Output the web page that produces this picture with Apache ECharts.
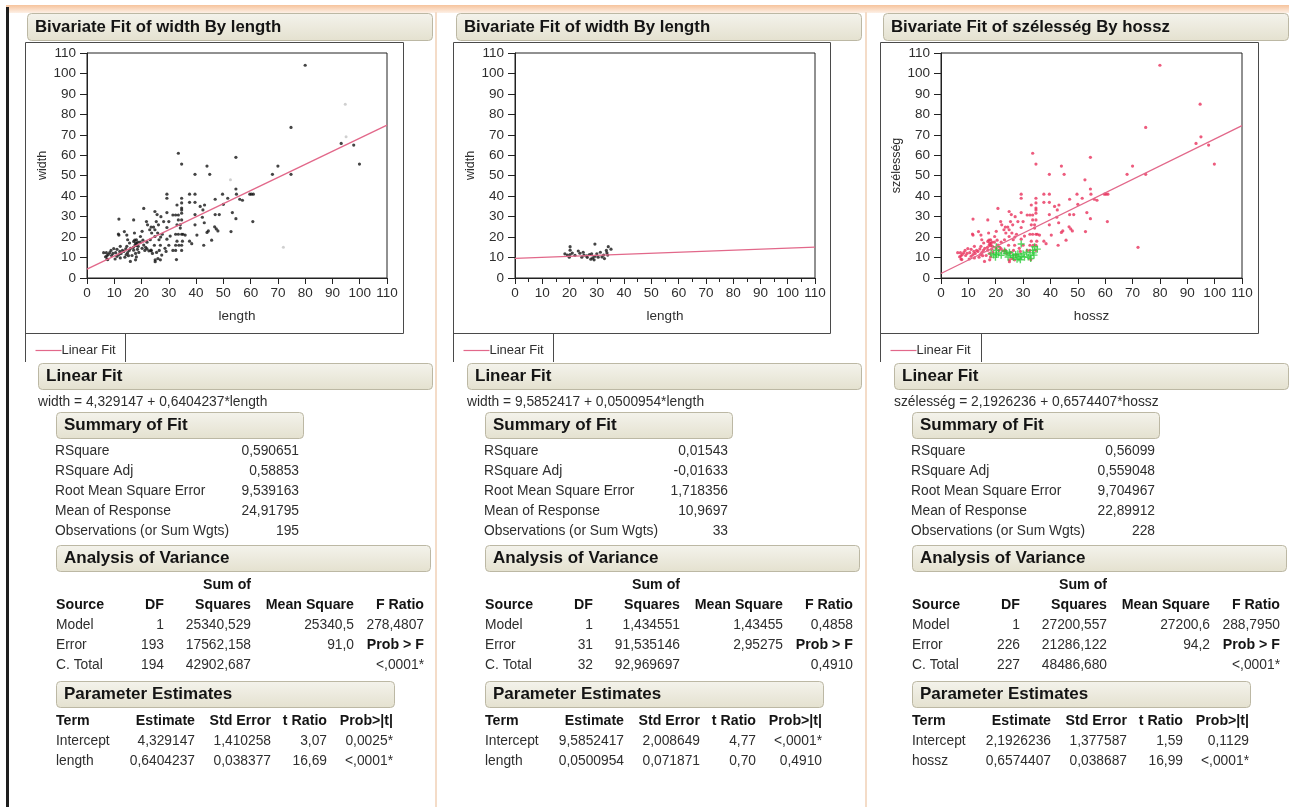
<!DOCTYPE html>
<html>
<head>
<meta charset="utf-8">
<title>Bivariate Fit</title>
<script src="https://cdn.jsdelivr.net/npm/echarts@6/dist/echarts.min.js"></script>
<style>
  body { margin: 0; background: #fff; }
  #main { width: 1289px; height: 807px; }
</style>
</head>
<body>
<div id="main"></div>
<script type="text/javascript">
// ---- data ----
var tickValues = [0, 10, 20, 30, 40, 50, 60, 70, 80, 90, 100, 110];

// length / width points (panel 1, and red in panel 3)
var pointsA = [
  [80,104],[74.8,73.6],[93.2,65.8],[97.8,65],[99.9,55.7],[74.8,50.7],[68,50.7],[70,54.7],
  [33.5,61],[34.7,55.7],[44,54.7],[45,50.7],[39.6,50.7],[54.6,59],[54.6,43.5],[54.8,41],[59.7,41],[61,41],[60.3,41],
  [56,38.5],[57,38],[60.8,27.6],[53.3,32],[54.6,29],[52.8,22.7],[49.7,41],[50,36],[51.6,39],[47,38.5],[47,31],
  [48.5,31],[47.4,24],[48,23],[45.7,18.5],[44,22.3],[43,27],[42.3,29.7],[42.5,33.3],[41.5,35],[43.1,35.7],
  [37.6,41],[39.6,41],[37.6,37],[39.6,37],[39.6,31],[39.6,26],[40.3,21],[42.8,16],[37.6,18],[38.4,16.8],[44.5,23],[46.8,25],
  [34.7,39],[34.7,36.7],[34.7,34.2],[34.7,33.3],[34.7,31.7],[33,35.7],[33.5,30.8],[32.5,30.8],[31.5,30.8],[34.7,28.4],
  [33.5,28.4],[33,26],[34.2,26],[32.5,21.4],[33.5,21.4],[34.7,21.4],[35.2,21.4],[34.2,24.4],[32.5,16],[33.7,16],
  [34.7,16],[34.7,13.5],[32.8,9],[32.5,13.5],[31.5,13.5],[35,18],[36,21],[33,18],
  [29.3,41],[29.3,39],[29.3,32],[30,27.6],[29.3,24.7],[27.6,21.4],[29.3,19],[30,16],[28.1,27.6],[27.1,30],[30.5,20.5],[28.6,14.5],[29,13],
  [25.4,27.6],[26.2,26],[24.4,24.9],[24.9,23.6],[25.9,22],[24.9,20.3],[26.4,18.7],[26.9,16],[27.4,11.2],[26.9,8.9],
  [24.9,32.5],[25.7,31],[23.5,24.9],[23,23.6],[23.7,22],[23.2,18.7],[24.7,16],[23.5,13.6],[24,12],[25,8.9],[25,8],
  [26,9.5],[25.5,12.5],[26.5,13.5],[27,20],
  [20.8,34],[21.8,27.6],[22.2,26],[20.2,22.8],[19.6,20.3],[20.8,16.1],[21.5,15],[22,14.2],[22.7,13.3],[23.5,13.3],
  [20.2,14.5],[21.2,13.5],[19.5,17.5],[22,17.5],[20.5,18.5],
  [17.1,28.4],[17.4,22],[18.1,18.7],[17.1,17.9],[17.8,17.1],[18.3,16.8],[17.6,16.1],[18.1,15.8],[18.6,17.6],[17,15],
  [18.8,15.5],[17.5,18.5],[17.1,13.6],[17.8,12],[18.1,10.3],[17.8,8.9],[15.9,8.1],[16.5,11],[19,12.5],[18.5,14],
  [14.9,18.7],[15.6,17.1],[14.6,15.5],[14.2,14.2],[14.9,12.4],[14.4,11.5],[15.2,10.9],[13.9,10.2],[13.7,22.7],[14.6,21],
  [15.5,13.5],[13.5,13],[16,14.5],
  [11.7,21],[11.5,21.5],[11.7,28.8],[12.2,15.5],[11,14],[10.5,12.4],[11.7,11.5],[12.2,9.8],[11,10.6],[9.8,14.4],
  [10.3,9.3],[12.5,12],[13,13.5],[12,13],
  [8.3,12.4],[7.8,11.5],[7.3,10.8],[6.1,12.4],[7.1,12.4],[6.8,10.4],[7.3,9.3],[7.6,9],[9,11],[8.8,13.5],[9.5,12]
];
// faint (light) points in panel 1
var pointsAFaint = [[94.7,85],[95,69],[72,15],[52.6,48]];

// second sample (panel 2, and green in panel 3)
var pointsB = [
  [20.2,15.3],[29.3,16.6],[34.2,15.3],[18.3,11.8],[19.2,11.2],[20.2,11.5],[19.9,10.2],[23.2,13.2],[23.8,12.1],
  [25,12.6],[25.3,11.2],[26.3,10.8],[27.3,11.5],[26.5,10.1],[28.1,11.8],[28.5,9.8],[29,8.9],[29.3,10.6],[30,11.8],
  [31.3,12.6],[31.9,10.3],[32.5,11.2],[32.8,9.5],[33.5,13.5],[33.7,12.3],[34,11.2],[20.2,13.6],[24.5,10.2],
  [27.8,9.2],[22,11.1],[30.5,10.2],[35.2,14.1],[21,12.2]
];

// fitted lines, end points at x = 0 and x = 110
var fit1 = [[0, 4.33], [110, 74.78]];
var fit2 = [[0, 9.59], [110, 15.1]];
var fit3 = [[0, 2.19], [110, 74.5]];

var titles = ['Bivariate Fit of width By length', 'Bivariate Fit of width By length', 'Bivariate Fit of szélesség By hossz'];
var xNames = ['length', 'length', 'hossz'];
var yNames = ['width', 'width', 'szélesség'];
var equations = ['width = 4,329147 + 0,6404237*length', 'width = 9,5852417 + 0,0500954*length', 'szélesség = 2,1926236 + 0,6574407*hossz'];

var summaryLabels = ['RSquare', 'RSquare Adj', 'Root Mean Square Error', 'Mean of Response', 'Observations (or Sum Wgts)'];
var summary1 = ['0,590651', '0,58853', '9,539163', '24,91795', '195'];
var summary2 = ['0,01543', '-0,01633', '1,718356', '10,9697', '33'];
var summary3 = ['0,56099', '0,559048', '9,704967', '22,89912', '228'];

var anovaHead = ['Source', 'DF', 'Squares', 'Mean Square', 'F Ratio'];
var anova1 = [['Model', '1', '25340,529', '25340,5', '278,4807'], ['Error', '193', '17562,158', '91,0', 'Prob > F'], ['C. Total', '194', '42902,687', '', '<,0001*']];
var anova2 = [['Model', '1', '1,434551', '1,43455', '0,4858'], ['Error', '31', '91,535146', '2,95275', 'Prob > F'], ['C. Total', '32', '92,969697', '', '0,4910']];
var anova3 = [['Model', '1', '27200,557', '27200,6', '288,7950'], ['Error', '226', '21286,122', '94,2', 'Prob > F'], ['C. Total', '227', '48486,680', '', '<,0001*']];

var paramHead = ['Term', 'Estimate', 'Std Error', 't Ratio', 'Prob>|t|'];
var params1 = [['Intercept', '4,329147', '1,410258', '3,07', '0,0025*'], ['length', '0,6404237', '0,038377', '16,69', '<,0001*']];
var params2 = [['Intercept', '9,5852417', '2,008649', '4,77', '<,0001*'], ['length', '0,0500954', '0,071871', '0,70', '0,4910']];
var params3 = [['Intercept', '2,1926236', '1,377587', '1,59', '0,1129'], ['hossz', '0,6574407', '0,038687', '16,99', '<,0001*']];

// ---- layout ----
var FONT = '"Liberation Sans", Arial, sans-serif';
var TXT = '#2e2e2e';
var FIT = '#e2688a';
var summaries = [summary1, summary2, summary3];
var anovas = [anova1, anova2, anova3];
var paramsAll = [params1, params2, params3];
var offs = [0, 429, 856];
var frameX = [25, 453, 880];
var frameW = [378, 377, 378];
var legendX = [125, 553, 981];
var gridLeft = [87, 515, 941];
var gridW = [300, 300, 301];

var G = [];
function hdrBox(x, y, w, h) {
  G.push({
    type: 'rect', shape: { x: x + 0.5, y: y + 0.5, width: w, height: h, r: 4 },
    style: {
      fill: new echarts.graphic.LinearGradient(0, 0, 0, 1, [{ offset: 0, color: '#f4f3ec' }, { offset: 1, color: '#e4e1cf' }]),
      stroke: '#bcb8a4', lineWidth: 1
    }
  });
}
function txt(x, y, s, font, align, color) {
  G.push({
    type: 'text', x: x, y: y,
    style: { text: s, font: font, fill: color || TXT, align: align || 'left', verticalAlign: 'middle',
      textAlign: align || 'left', textVerticalAlign: 'middle' }
  });
}
function ln(x1, y1, x2, y2, color, w) {
  G.push({ type: 'line', shape: { x1: x1, y1: y1, x2: x2, y2: y2 }, style: { stroke: color, lineWidth: w || 1 } });
}

// page chrome
G.push({ type: 'rect', shape: { x: 6, y: 5, width: 1283, height: 8 },
  style: { fill: new echarts.graphic.LinearGradient(0, 0, 0, 1, [{ offset: 0, color: '#f6c39c' }, { offset: 1, color: '#fdf0e6' }]) } });
G.push({ type: 'rect', shape: { x: 6, y: 7, width: 3, height: 800 }, style: { fill: '#1e1e1e' } });
ln(436, 12, 436, 807, '#f4dcc8', 2);
ln(866, 12, 866, 807, '#f4dcc8', 2);

var bodyF = '13.8px ' + FONT;
var boldF = 'bold 14.2px ' + FONT;
var headF = 'bold 17px ' + FONT;
var titleF = 'bold 16.8px ' + FONT;
var anovaCols = [164, 251, 354, 424];
var paramCols = [195, 271, 327, 393];

for (var i = 0; i < 3; i++) {
  var o = offs[i];
  hdrBox(27 + o, 13, 405, 27);
  txt(35 + o, 27, titles[i], titleF, 'left', '#141414');

  // plot frame + legend cell
  var fx = frameX[i] + 0.5;
  G.push({ type: 'rect', shape: { x: fx, y: 42.5, width: frameW[i], height: 291 }, style: { fill: 'none', stroke: '#4a4a4a', lineWidth: 1 } });
  ln(fx, 333, fx, 362, '#4a4a4a');
  ln(legendX[i] + 0.5, 333, legendX[i] + 0.5, 362, '#4a4a4a');
  ln(fx + 10, 350.5, fx + 36, 350.5, FIT, 1.2);
  txt(fx + 36, 350, 'Linear Fit', '13px ' + FONT);

  // Linear Fit
  hdrBox(38 + o, 363, 394, 26);
  txt(46 + o, 376, 'Linear Fit', headF, 'left', '#141414');
  txt(38 + o, 402, equations[i], bodyF);

  // Summary of Fit
  hdrBox(56 + o, 412, 247, 26);
  txt(64 + o, 425, 'Summary of Fit', headF, 'left', '#141414');
  for (var k = 0; k < summaryLabels.length; k++) {
    txt(55 + o, 451 + 20 * k, summaryLabels[k], bodyF);
    txt(299 + o, 451 + 20 * k, summaries[i][k], bodyF, 'right');
  }

  // Analysis of Variance
  hdrBox(56 + o, 545, 374, 26);
  txt(64 + o, 558, 'Analysis of Variance', headF, 'left', '#141414');
  txt(227 + o, 585, 'Sum of', boldF, 'center', '#141414');
  txt(56 + o, 605, anovaHead[0], boldF, 'left', '#141414');
  for (var c = 1; c < 5; c++) txt(anovaCols[c - 1] + o, 605, anovaHead[c], boldF, 'right', '#141414');
  anovas[i].forEach(function (row, r) {
    var y = 625 + 20 * r;
    txt(56 + o, y, row[0], bodyF);
    for (var c = 1; c < 5; c++) {
      var isProb = row[c] === 'Prob > F';
      txt(anovaCols[c - 1] + o, y, row[c], isProb ? boldF : bodyF, 'right', isProb ? '#141414' : TXT);
    }
  });

  // Parameter Estimates
  hdrBox(56 + o, 681, 338, 26);
  txt(64 + o, 694, 'Parameter Estimates', headF, 'left', '#141414');
  txt(56 + o, 721, paramHead[0], boldF, 'left', '#141414');
  for (var c2 = 1; c2 < 5; c2++) txt(paramCols[c2 - 1] + o, 721, paramHead[c2], boldF, 'right', '#141414');
  paramsAll[i].forEach(function (row, r) {
    var y = 741 + 20 * r;
    txt(56 + o, y, row[0], bodyF);
    for (var c = 1; c < 5; c++) txt(paramCols[c - 1] + o, y, row[c], bodyF, 'right');
  });
}

// ---- axes ----
var axMin = tickValues[0], axMax = tickValues[tickValues.length - 1], axStep = tickValues[1] - tickValues[0];
function xAx(i, minor) {
  return {
    gridIndex: i, type: 'value', min: axMin, max: axMax, interval: axStep,
    name: xNames[i], nameLocation: 'middle', nameGap: 31,
    nameTextStyle: { color: TXT, fontSize: 13.5, fontFamily: FONT },
    axisLine: { show: true, onZero: false, lineStyle: { color: '#222', width: 1 } },
    axisTick: { show: true, inside: false, length: 6, lineStyle: { color: '#222' } },
    minorTick: { show: minor, splitNumber: 2, length: 4, lineStyle: { color: '#222' } },
    axisLabel: { show: true, color: TXT, fontSize: 13.5, fontFamily: FONT, margin: 8, hideOverlap: false },
    splitLine: { show: false }, minorSplitLine: { show: false }
  };
}
function yAx(i) {
  return {
    gridIndex: i, type: 'value', min: axMin, max: axMax, interval: axStep,
    name: yNames[i], nameLocation: 'middle', nameGap: 38, nameRotate: 90,
    nameTextStyle: { color: TXT, fontSize: 12.5, fontFamily: FONT },
    axisLine: { show: true, onZero: false, lineStyle: { color: '#222', width: 1 } },
    axisTick: { show: true, inside: false, length: 7, lineStyle: { color: '#222' } },
    axisLabel: { show: true, color: TXT, fontSize: 13.5, fontFamily: FONT, margin: 11, hideOverlap: false },
    splitLine: { show: false }
  };
}

var plusPath = 'path://M4,0h2v4h4v2h-4v4h-2v-4h-4v-2h4z';
function fitSeries(idx, data) {
  return { type: 'line', xAxisIndex: idx, yAxisIndex: idx, data: data, symbol: 'none', silent: true, z: 3,
    lineStyle: { color: FIT, width: 1.3 } };
}

var option = {
  backgroundColor: '#fff',
  animation: false,
  grid: [0, 1, 2].map(function (i) {
    return { left: gridLeft[i], top: 53, width: gridW[i], height: 225, show: true, borderColor: '#222', borderWidth: 1, backgroundColor: 'transparent' };
  }),
  xAxis: [xAx(0, false), xAx(1, true), xAx(2, false)],
  yAxis: [yAx(0), yAx(1), yAx(2)],
  series: [
    { type: 'scatter', xAxisIndex: 0, yAxisIndex: 0, data: pointsA, symbol: 'circle', symbolSize: 3.2, itemStyle: { color: '#151515' } },
    { type: 'scatter', xAxisIndex: 0, yAxisIndex: 0, data: pointsAFaint, symbol: 'circle', symbolSize: 3, itemStyle: { color: '#c4c4c4' } },
    fitSeries(0, fit1),
    { type: 'scatter', xAxisIndex: 1, yAxisIndex: 1, data: pointsB, symbol: 'circle', symbolSize: 3.2, itemStyle: { color: '#151515' } },
    fitSeries(1, fit2),
    { type: 'scatter', xAxisIndex: 2, yAxisIndex: 2, data: pointsA.concat(pointsAFaint), symbol: 'circle', symbolSize: 3.2, itemStyle: { color: '#e8325c' } },
    { type: 'scatter', xAxisIndex: 2, yAxisIndex: 2, data: pointsB, symbol: plusPath, symbolSize: 7, itemStyle: { color: '#2fcc3c' } },
    fitSeries(2, fit3)
  ],
  graphic: { elements: G }
};

var myChart = echarts.init(document.getElementById('main'));
myChart.setOption(option);
</script>
</body>
</html>
